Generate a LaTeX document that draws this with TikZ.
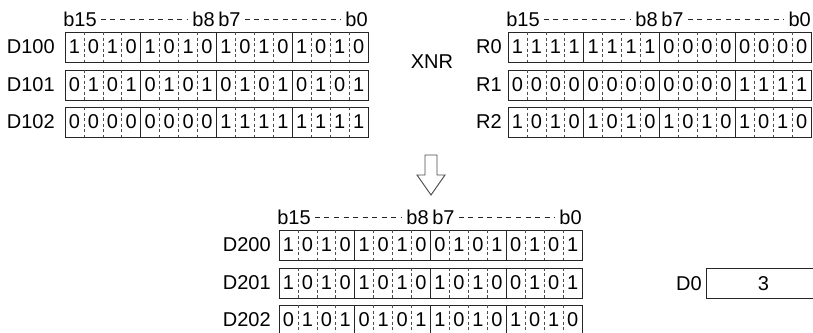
\documentclass[tikz,border=0pt]{standalone}
\usepackage{fontspec}
\setmainfont{Liberation Sans}
\usetikzlibrary{positioning}
\newcommand{\regfont}{\fontsize{15pt}{18pt}\selectfont}

\begin{document}
\regfont
\begin{tikzpicture}[
    x=0.75pt, y=-0.75pt,
    every node/.style={font=\regfont},
    reg/.style={rectangle, draw=black!85, line width=0.8pt, minimum width=227.25pt, minimum height=22.5pt, inner sep=0pt, anchor=north west},
    bit/.style={inner sep=0pt},
    rname/.style={inner sep=0pt, anchor=east},
    blabel/.style={inner sep=0pt},
    bitsep/.style={black!70, line width=0.5pt, dash pattern=on 2.25pt off 1.9pt},
    nibsep/.style={black!85, line width=0.8pt},
    bitspan/.style={black!85, line width=0.65pt, dash pattern=on 3.75pt off 3.4pt, shorten <=3pt, shorten >=3pt}
  ]
  \useasboundingbox (0,0) rectangle (813,332);

  % bit headings over each block
  \foreach \blk/\x/\y in {L/65/32, R/508/32, B/279/230}{
    \node[blabel, anchor=west] (\blk15) at (\x-2,\y-13) {b15};
    \node[blabel, anchor=east] (\blk8) at (\x+150,\y-13) {b8};
    \node[blabel, anchor=west] (\blk7) at (\x+153,\y-13) {b7};
    \node[blabel, anchor=east] (\blk0) at (\x+303,\y-13) {b0};
    \draw[bitspan] (\blk15) -- (\blk8);
    \draw[bitspan] (\blk7) -- (\blk0);
  }

  % registers
  \foreach \nm/\x/\y/\gap/\bits in {
      D100/65/32/10/{1,0,1,0,1,0,1,0,1,0,1,0,1,0,1,0},
      D101/65/69.5/10/{0,1,0,1,0,1,0,1,0,1,0,1,0,1,0,1},
      D102/65/107/10/{0,0,0,0,0,0,0,0,1,1,1,1,1,1,1,1},
      R0/508/32/6/{1,1,1,1,1,1,1,1,0,0,0,0,0,0,0,0},
      R1/508/69.5/6/{0,0,0,0,0,0,0,0,0,0,0,0,1,1,1,1},
      R2/508/107/6/{1,0,1,0,1,0,1,0,1,0,1,0,1,0,1,0},
      D200/279/230/8/{1,0,1,0,1,0,1,0,0,1,0,1,0,1,0,1},
      D201/279/267.5/8/{1,0,1,0,1,0,1,0,1,0,1,0,0,1,0,1},
      D202/279/305/8/{0,1,0,1,0,1,0,1,1,0,1,0,1,0,1,0}}{
    \node[reg] (\nm) at (\x,\y) {};
    \node[rname] (\nm-name) at (\x-\gap,\y+15) {\nm};
    \foreach \b [count=\i] in \bits
      \node[bit] (\nm-\i) at (\x+\i*18.94-9.47,\y+15) {\b};
    \foreach \i in {1,2,3,5,6,7,9,10,11,13,14,15}
      \draw[bitsep] (\x+\i*18.94,\y) -- (\x+\i*18.94,\y+30);
    \foreach \i in {4,8,12}
      \draw[nibsep] (\x+\i*18.94,\y) -- (\x+\i*18.94,\y+30);
  }

  \node (xnr) at (432,62) {XNR};

  % result arrow
  \draw[black!70, line width=0.7pt, fill=white] (425,155) -- (437,155) -- (437,175) -- (445,175)
    -- (431,195) -- (417,175) -- (425,175) -- cycle;

  \node[reg, minimum width=85.5pt] (D0) at (706,268) {3};
  \node[rname, left=3pt of D0] (D0-name) {D0};
\end{tikzpicture}
\end{document}
